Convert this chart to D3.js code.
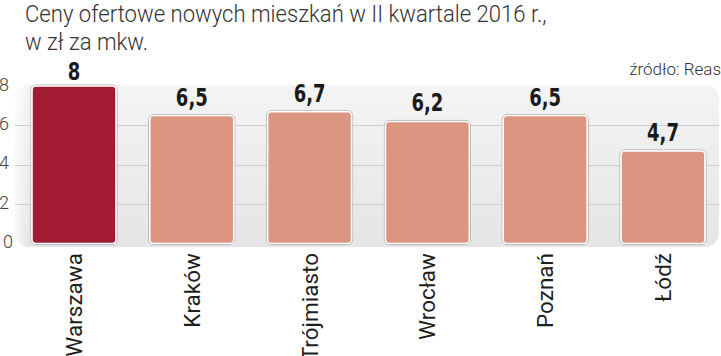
<!DOCTYPE html>
<html><head><meta charset="utf-8">
<script src="https://cdn.jsdelivr.net/npm/d3@7"></script>
<style>html,body{margin:0;padding:0;background:#fff;overflow:hidden}</style>
</head><body>
<svg id="c" width="721" height="356"></svg>
<script>
const categories = ["Warszawa","Kraków","Trójmiasto","Wrocław","Poznań","Łódź"];
const values = [8, 6.5, 6.7, 6.2, 6.5, 4.7];
const valueLabels = ["8","6,5","6,7","6,2","6,5","4,7"];
const highlight = ["Warszawa"];
const yTicks = [0,2,4,6,8];
const titleLines = ["Ceny ofertowe nowych mieszkań w II kwartale 2016 r.,","w zł za mkw."];
const sourceText = "źródło: Reas";

const svg = d3.select("#c");
const y = d3.scaleLinear().domain([0,8]).range([243.5, 86]);
const x = d3.scaleBand().domain(categories).range([32, 705]).paddingInner(0.287).paddingOuter(0);

const defs = svg.append("defs");
const g1 = defs.append("linearGradient").attr("id","pg").attr("x1",0).attr("y1",0).attr("x2",0).attr("y2",1);
g1.append("stop").attr("offset","0%").attr("stop-color","#f4f4f4");
g1.append("stop").attr("offset","100%").attr("stop-color","#e5e5e5");
const g2 = defs.append("linearGradient").attr("id","pl").attr("x1",0).attr("y1",0).attr("x2",1).attr("y2",0);
g2.append("stop").attr("offset","0%").attr("stop-color","#fff").attr("stop-opacity",0.7);
g2.append("stop").attr("offset","100%").attr("stop-color","#fff").attr("stop-opacity",0);

// panel
svg.append("rect").attr("x",15).attr("y",85).attr("width",704).attr("height",162).attr("rx",14).attr("fill","url(#pg)");
svg.append("rect").attr("x",15).attr("y",85).attr("width",14).attr("height",162).attr("rx",10).attr("fill","url(#pl)");

// gridlines
svg.append("g").selectAll("line").data(yTicks.filter(t=>t>0 && t<8)).join("line")
  .attr("x1",15).attr("x2",719).attr("y1",d=>Math.round(y(d))+0.5).attr("y2",d=>Math.round(y(d))+0.5)
  .attr("stroke","#cdcdcd").attr("stroke-width",1);

// y tick labels
svg.append("g").selectAll("text").data(yTicks).join("text")
  .attr("x",d=>d===0?13:9).attr("y",d=>y(d)+4.5).attr("text-anchor","end")
  .attr("font-family","Roboto").attr("font-weight",300).attr("font-size",18).attr("fill","#444")
  .text(d=>d);

// bars
const bars = svg.append("g");
const data = categories.map((c,i)=>({c, v:values[i], l:valueLabels[i]}));
bars.selectAll("rect.sh").data(data).join("rect").attr("class","sh")
  .attr("x",d=>x(d.c)-1).attr("y",d=>y(d.v)-1).attr("width",x.bandwidth()+2).attr("height",d=>y(0)-y(d.v)+2)
  .attr("rx",5).attr("fill","none").attr("stroke","#a9a9a9").attr("stroke-width",1);
bars.selectAll("rect.b").data(data).join("rect").attr("class","b")
  .attr("x",d=>x(d.c)).attr("y",d=>y(d.v)).attr("width",x.bandwidth()).attr("height",d=>y(0)-y(d.v))
  .attr("rx",4).attr("fill",d=>highlight.includes(d.c)?"#a11c33":"#db9581")
  .attr("stroke","#fff").attr("stroke-width",1.6);

// value labels
bars.selectAll("text.v").data(data).join("text").attr("class","v")
  .attr("transform",d=>`translate(${x(d.c)+x.bandwidth()/2},${Math.max(y(d.v)-10, 80)}) scale(0.8,1)`)
  .attr("text-anchor","middle").attr("font-family","DejaVu Sans Condensed, DejaVu Sans").attr("font-weight","bold")
  .attr("font-size",25).attr("fill","#1a1a1a").text(d=>d.l);

// x labels
svg.append("g").selectAll("text").data(categories).join("text")
  .attr("transform",d=>`translate(${x(d)+x.bandwidth()/2+8},253) rotate(-90)`)
  .attr("text-anchor","end").attr("font-family","Roboto").attr("font-size",22.5).attr("fill","#1e1e1e")
  .text(d=>d);

// title
const tg = svg.append("g");
const tl = tg.selectAll("text").data(titleLines).join("text")
  .attr("x",0).attr("y",(d,i)=>22+i*28)
  .attr("font-family","Roboto").attr("font-weight",300).attr("font-size",24).attr("fill","#333")
  .text(d=>d);
const nat = tl.node().getComputedTextLength();
const k = 522/nat;
tg.attr("transform",`translate(25,0) scale(${k},1)`);

// source
svg.append("text").attr("x",721).attr("y",75).attr("text-anchor","end")
  .attr("font-family","Roboto").attr("font-weight",300).attr("font-size",17).attr("fill","#333")
  .text(sourceText);
</script>
</body></html>
